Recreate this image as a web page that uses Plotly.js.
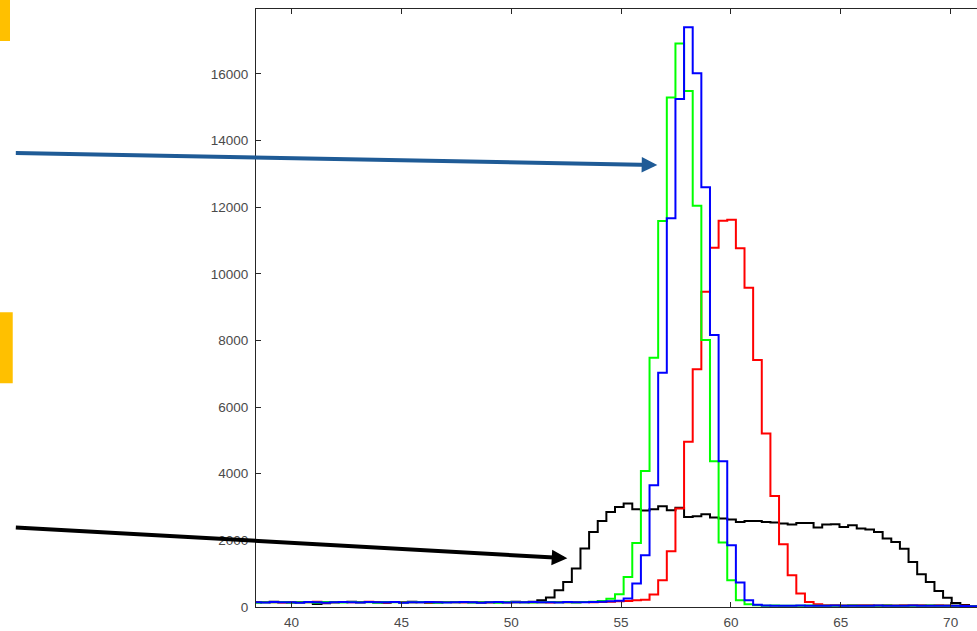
<!DOCTYPE html>
<html>
<head>
<meta charset="utf-8">
<script src="https://cdn.plot.ly/plotly-3.0.1.min.js"></script>
<style>
  html, body { margin: 0; padding: 0; background: #fff; overflow: hidden; }
  #chart { width: 977px; height: 631px; }
</style>
</head>
<body>
<div id="chart"></div>
<script>
// Histogram bins (shared by all series)
const binEdgeStart = 38.216;
const binWidth = 0.393;

// Counts per bin
const countsBlack = [150,140,155,140,135,145,150,90,110,140,150,155,140,150,145,130,150,145,155,140,130,145,150,150,140,145,135,150,140,145,155,140,160,
  200,282,502,751,1153,1754,2253,2583,2854,3004,3106,2935,2900,2935,3025,2905,2980,
  2704,2725,2785,2685,2655,2625,2553,2583,2583,2553,2533,2505,2475,2523,2523,2385,
  2474,2484,2404,2454,2354,2324,2254,2054,1953,1750,1350,980,750,480,280,120,60,30,20];

const countsGreen = [130,145,140,150,135,140,145,130,150,140,135,150,145,140,130,150,140,135,145,150,140,130,145,140,150,135,140,145,130,150,140,145,135,140,150,140,145,135,150,160,180,
  250,381,901,1923,4086,7480,11586,15290,16912,15491,12046,8011,4377,1934,802,200,80,
  50,40,45,40,35,40,45,40,35,40,40,45,40,35,40,45,40,40,35,40,45,40,35,40,30,25,20];

const countsBlue = [140,135,150,145,140,130,150,140,125,145,150,140,135,150,145,140,150,130,145,140,150,145,135,140,150,145,130,140,150,135,145,140,150,145,140,135,150,145,140,150,160,170,190,
  252,703,1553,3656,7029,11667,15250,17404,16022,12598,8162,4377,1853,733,200,70,
  45,40,35,40,45,40,35,40,45,40,35,40,40,45,40,35,40,45,40,35,40,40,35,30,25,20];

const countsRed = [145,150,140,135,150,145,140,155,130,145,150,140,145,160,140,135,150,145,140,150,135,145,150,140,145,150,140,135,150,145,140,150,145,140,135,150,145,140,150,145,150,160,170,180,200,
  220,372,802,1673,2955,4957,7140,9462,10784,11595,11625,10766,9583,7411,5209,3334,1883,952,402,150,80,
  55,50,45,50,55,50,45,50,45,50,55,50,45,50,45,40,35,30,25];

const xTickVals = [40,45,50,55,60,65,70];
const yTickVals = [0,2000,4000,6000,8000,10000,12000,14000,16000];

function stairs(counts) {
  const x = [], y = [];
  for (let k = 0; k < counts.length; k++) {
    x.push(binEdgeStart + k * binWidth);
    y.push(counts[k]);
  }
  x.push(binEdgeStart + counts.length * binWidth);
  y.push(counts[counts.length - 1]);
  return {x, y};
}

function trace(counts, color) {
  const s = stairs(counts);
  return {
    type: 'scatter', mode: 'lines', x: s.x, y: s.y,
    line: {shape: 'hv', color: color, width: 2},
    hoverinfo: 'skip', showlegend: false
  };
}

const data = [
  trace(countsBlack, '#000000'),
  trace(countsRed, '#ff0000'),
  trace(countsGreen, '#00ff00'),
  trace(countsBlue, '#0000ff')
];

const axisFont = {family: 'Liberation Sans, Arial, sans-serif', size: 13.5, color: '#4a4a4a'};

const layout = {
  width: 977, height: 631,
  margin: {l: 256, r: 0, t: 9, b: 24, pad: 0},
  paper_bgcolor: '#ffffff', plot_bgcolor: '#ffffff',
  showlegend: false,
  xaxis: {
    range: [38.38, 71.2],
    tickvals: xTickVals,
    ticktext: xTickVals.map(String),
    ticks: 'inside', ticklen: 5, tickwidth: 1, tickcolor: '#262626',
    showline: true, linecolor: '#262626', linewidth: 1, mirror: 'ticks',
    showgrid: false, zeroline: false,
    tickfont: axisFont, ticklabelstandoff: 3
  },
  yaxis: {
    range: [0, 17950],
    tickvals: yTickVals,
    ticktext: yTickVals.map(String),
    ticks: 'inside', ticklen: 5, tickwidth: 1, tickcolor: '#262626',
    showline: true, linecolor: '#262626', linewidth: 1, mirror: false,
    showgrid: false, zeroline: false,
    tickfont: axisFont, ticklabelstandoff: 4
  },
  shapes: [
    {type: 'rect', xref: 'paper', yref: 'paper', x0: -0.356, x1: -0.3412, y0: 0.9465, y1: 1.02,
     fillcolor: '#ffc000', line: {width: 0}},
    {type: 'rect', xref: 'paper', yref: 'paper', x0: -0.356, x1: -0.3374, y0: 0.3741, y1: 0.4928,
     fillcolor: '#ffc000', line: {width: 0}}
  ],
  annotations: [
    {xref: 'paper', yref: 'paper', x: 0.5566, y: 0.7391, text: '', showarrow: true,
     axref: 'pixel', ayref: 'pixel', ax: -643, ay: -12,
     arrowhead: 2, arrowsize: 0.78, arrowwidth: 4, arrowcolor: '#1f5b96', standoff: 0},
    {xref: 'paper', yref: 'paper', x: 0.4318, y: 0.0814, text: '', showarrow: true,
     axref: 'pixel', ayref: 'pixel', ax: -553, ay: -31,
     arrowhead: 2, arrowsize: 0.78, arrowwidth: 4, arrowcolor: '#000000', standoff: 0}
  ]
};

Plotly.newPlot('chart', data, layout, {staticPlot: true, displayModeBar: false});
</script>
</body>
</html>
